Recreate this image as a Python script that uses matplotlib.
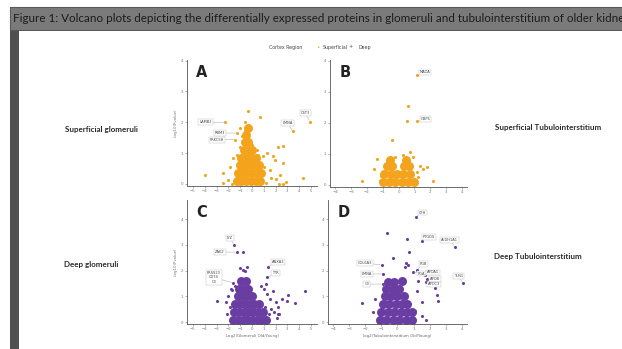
import matplotlib
matplotlib.use("Agg")
from matplotlib import pyplot as plt
from matplotlib.patches import Rectangle

"""Volcano plots of glomeruli / tubulointerstitium, old vs young kidneys,
rebuilt as the slide screenshot (title band + 2x2 panels + row labels)."""

# ---- data -------------------------------------------------------------
# scattered points (log2 fold change, -log10 p)
a_x = [-0.36, 0.68, -0.59, -2.28, -1.29, -1.44, 3.47, 4.9, 2.23, 2.65, 1.24, 1.78, 1.97,
       2.6, 1.0, 1.5, -1.86, -2.45, -3.98, -2.43, -1.72, 4.3, 2.3, 2.6, 2.0, 2.4, 1.2, 0.7,
       -1.02, -1.3, -1.58, -0.03, 0.4, 0.53, 0.96, -1.02, -0.59, -0.87, 1.6, 2.9, -2.0]
a_y = [2.35, 2.17, 2.02, 2.0, 1.65, 1.43, 1.7, 2.02, 1.21, 1.23, 1.0, 0.89, 0.78,
       0.68, 0.55, 0.45, 0.56, 0.35, 0.29, 0.02, 0.0, 0.19, 0.0, 0.0, 0.15, 0.28, 0.02, 0.15,
       1.21, 0.94, 0.83, 1.27, 1.1, 0.94, 0.89, 1.81, 1.7, 1.54, 0.2, 0.05, 0.12]
# dense core of the cloud
a_core_x = [-1.3, -0.9, -0.5, -0.1, 0.3, 0.7, -1.2, -0.8, -0.4, 0.0, 0.4, 0.75,
            -1.0, -0.6, -0.2, 0.2, 0.55, -0.9, -0.5, -0.1, 0.3, -0.7, -0.35, 0.0,
            -0.6, -0.3, -0.55, -0.35]
a_core_y = [0.1, 0.1, 0.1, 0.1, 0.1, 0.1, 0.35, 0.35, 0.35, 0.35, 0.35, 0.35,
            0.6, 0.6, 0.6, 0.6, 0.6, 0.85, 0.85, 0.85, 0.85, 1.1, 1.1, 1.1,
            1.35, 1.35, 1.6, 1.8]

b_x = [1.14, 0.62, 0.55, 1.18, -0.43, 0.72, 0.93, -1.37, -1.58, 1.35, 1.56, 1.77,
       1.14, 1.24, -2.31, 2.19, -1.1, -1.0, -1.2, 0.3, -0.2]
b_y = [3.53, 2.53, 2.07, 2.04, 1.44, 1.06, 0.89, 0.84, 0.51, 0.62, 0.51, 0.57,
       0.4, 0.24, 0.13, 0.13, 0.3, 0.2, 0.12, 0.95, 0.9]
b_core_x = [-1.0, -0.6, -0.2, 0.2, 0.6, 0.95, -0.9, -0.5, -0.1, 0.3, 0.7,
            -0.75, -0.4, 0.35, 0.65, -0.55, 0.45]
b_core_y = [0.1, 0.1, 0.1, 0.1, 0.1, 0.1, 0.35, 0.35, 0.35, 0.35, 0.35,
            0.6, 0.6, 0.6, 0.6, 0.8, 0.8]

c_x = [-1.52, -1.3, -0.79, -1.02, -0.74, -0.45, -0.59, 1.38, 1.3, -1.58, -1.44, -1.72,
       -2.99, 4.48, 3.07, 3.64, 2.94, 2.23, 2.09, 1.0, 1.3, 1.5, 1.8, 2.0, 1.6, 2.2,
       1.1, 1.4, 1.9, 2.5, 1.2, 0.8, 2.3, -2.0, -1.9, -2.1, -1.8, -2.2]
c_y = [3.0, 2.72, 2.72, 2.1, 2.03, 2.16, 2.0, 2.16, 1.74, 1.52, 1.39, 1.26,
       0.84, 1.2, 1.07, 0.75, 0.81, 0.3, 0.17, 1.3, 1.1, 0.9, 1.2, 0.8, 0.5, 0.6,
       0.6, 0.3, 0.4, 0.9, 1.5, 1.4, 0.3, 1.0, 0.6, 0.3, 1.3, 0.8]
c_core_x = [-1.6, -1.2, -0.8, -0.4, 0.0, 0.4, 0.8, 1.2, -1.5, -1.1, -0.7, -0.3, 0.1,
            0.5, 0.9, -1.4, -1.0, -0.6, -0.2, 0.2, 0.6, -1.2, -0.8, -0.4, 0.0,
            -1.1, -0.7, -0.3, -0.9, -0.5]
c_core_y = [0.1, 0.1, 0.1, 0.1, 0.1, 0.1, 0.1, 0.1, 0.4, 0.4, 0.4, 0.4, 0.4,
            0.4, 0.4, 0.7, 0.7, 0.7, 0.7, 0.7, 0.7, 1.0, 1.0, 1.0, 1.0,
            1.3, 1.3, 1.3, 1.6, 1.6]

d_x = [1.15, -0.67, 0.61, 1.51, 3.58, 0.74, -0.3, -0.99, 0.53, 0.68, 0.47, 1.2, 0.98,
       -0.88, 1.71, 1.82, 1.77, 4.06, -0.88, 2.33, 2.44, 2.54, -2.23, 1.2, 1.5, 1.1,
       1.5, 1.8, -1.4, -1.5, 1.3]
d_y = [4.09, 3.47, 3.23, 3.15, 2.93, 2.74, 2.49, 2.23, 2.29, 2.23, 2.16, 2.03, 1.94,
       1.87, 1.82, 1.69, 1.57, 1.52, 1.48, 1.33, 1.07, 0.84, 0.75, 1.2, 0.8, 0.45,
       0.25, 0.1, 0.9, 0.4, 1.6]
d_core_x = [-1.1, -0.7, -0.3, 0.1, 0.5, 0.9, -1.0, -0.6, -0.2, 0.2, 0.6, 0.9,
            -0.9, -0.5, -0.1, 0.3, 0.6, -0.8, -0.4, 0.0, 0.4, -0.7, -0.3, 0.1,
            -0.6, -0.2, 0.3]
d_core_y = [0.1, 0.1, 0.1, 0.1, 0.1, 0.1, 0.4, 0.4, 0.4, 0.4, 0.4, 0.4,
            0.7, 0.7, 0.7, 0.7, 0.7, 1.0, 1.0, 1.0, 1.0, 1.3, 1.3, 1.3,
            1.55, 1.55, 1.6]

# labelled proteins: name, x, y
a_labels = [("LAMB2", -2.28, 2.0), ("RBM3", -1.29, 1.65), ("PRKCSH", -1.44, 1.43),
            ("LMNA", 3.47, 1.7), ("CST3", 4.9, 2.02)]
b_labels = [("MAOA", 1.14, 3.53), ("GBP6", 1.18, 2.04)]
c_labels = [("LYZ", -1.52, 3.0), ("ZAK2", -1.3, 2.72), ("ANXA3", 1.38, 2.16),
            ("TTR", 1.3, 1.74), ("PRSS23\nCD74\nC3", -1.58, 1.52)]
d_labels = [("CFH", 1.15, 4.09), ("PTGDS", 1.51, 3.15), ("ALDH1A1", 3.58, 2.93),
            ("COL6A3", -0.99, 2.23), ("FGB", 1.2, 2.03), ("FGA", 0.98, 1.94),
            ("LMNA", -0.88, 1.87), ("APOA1", 1.71, 1.82), ("APOB", 1.82, 1.69),
            ("APOC3", 1.77, 1.57), ("TLN1", 4.06, 1.52), ("C3", -0.88, 1.48)]

a_xticks = [-5, -4, -3, -2, -1, 0, 1, 2, 3, 4, 5]
b_xticks = [-4, -3, -2, -1, 0, 1, 2, 3, 4]
yticks = [0, 1, 2, 3, 4]

row_labels = ["Superficial glomeruli", "Deep glomeruli",
              "Superficial Tubulointerstitium", "Deep Tubulointerstitium"]
title = ("Figure 1: Volcano plots depicting the differentially expressed proteins "
         "in glomeruli and tubulointerstitium of older kidneys")

orange = "#F4A41C"
purple = "#6A3DA3"

# label offsets in points (layout only)
a_off = [(-14, 0), (-12, 0), (-13, 0), (-4, 6), (-3, 6)]
b_off = [(6, 2), (6, 2)]
c_off = [(-3, 5), (-12, 0), (7, 3), (6, 3), (-14, 4)]
d_off = [(5, 3), (5, 3), (-4, 5), (-12, 1), (5, 4), (6, -1), (-12, 0), (6, 2), (6, 0),
         (6, -2), (-3, 5), (-12, 0)]

# ---- figure -----------------------------------------------------------
fig = plt.figure(figsize=(6.22, 3.49), dpi=100)
fig.patch.set_facecolor("white")

W, H = 622.0, 349.0
# dark slide frame, grey title band and white slide area
fig.patches.append(Rectangle((10 / W, 0), 1, 1 - 7 / H, transform=fig.transFigure,
                             fc="#4f4f4f", ec="none", zorder=-3))
fig.patches.append(Rectangle((10 / W, 1 - 30 / H), 1, 23 / H, transform=fig.transFigure,
                             fc="#7a7a7a", ec="#5a5a5a", lw=0.8, zorder=-2))
fig.patches.append(Rectangle((19 / W, 0), 1, 1 - 31 / H, transform=fig.transFigure,
                             fc="white", ec="none", zorder=-1))

fig.text(13 / W, 1 - 18.5 / H, title, fontsize=8.35, color="#1c1c1c", va="center",
         ha="left", family=["Lato", "DejaVu Sans"])


def box(l, t, r, b):
    return [l / W, 1 - b / H, (r - l) / W, (b - t) / H]


panels = [
    dict(rect=box(187, 60, 317, 186), x=a_x, y=a_y, cx=a_core_x, cy=a_core_y,
         lab=a_labels, off=a_off, col=orange, xlim=(-5.5, 5.5), ylim=(-0.07, 4.02),
         xt=a_xticks, tag="A", ylab=True, xlab=None),
    dict(rect=box(330, 60, 467, 187), x=b_x, y=b_y, cx=b_core_x, cy=b_core_y,
         lab=b_labels, off=b_off, col=orange, xlim=(-4.33, 4.33), ylim=(-0.07, 4.02),
         xt=b_xticks, tag="B", ylab=False, xlab=None),
    dict(rect=box(187, 200, 317, 324), x=c_x, y=c_y, cx=c_core_x, cy=c_core_y,
         lab=c_labels, off=c_off, col=purple, xlim=(-5.5, 5.5), ylim=(-0.07, 4.74),
         xt=a_xticks, tag="C", ylab=True, xlab="Log2(Glomeruli Old/Young)"),
    dict(rect=box(328, 200, 467, 324), x=d_x, y=d_y, cx=d_core_x, cy=d_core_y,
         lab=d_labels, off=d_off, col=purple, xlim=(-4.33, 4.33), ylim=(-0.07, 4.74),
         xt=b_xticks, tag="D", ylab=False, xlab="log2(Tubulointerstitium Old/Young)"),
]

for p in panels:
    ax = fig.add_axes(p["rect"])
    ax.set_zorder(2)
    ax.set_facecolor("none")
    ax.scatter(p["cx"], p["cy"], s=42, color=p["col"], lw=0, zorder=2)
    ax.scatter(p["x"], p["y"], s=5, color=p["col"], lw=0, zorder=3)
    for (name, gx, gy), (dx, dy) in zip(p["lab"], p["off"]):
        ax.annotate(name, (gx, gy), xytext=(dx, dy), textcoords="offset points",
                    fontsize=2.6, color="#444444", ha="center", va="center",
                    bbox=dict(boxstyle="square,pad=0.25", fc="white", ec="#bbbbbb", lw=0.3),
                    arrowprops=dict(arrowstyle="-", lw=0.3, color="#999999",
                                    shrinkA=0, shrinkB=1),
                    zorder=4)
    ax.set_xlim(*p["xlim"])
    ax.set_ylim(*p["ylim"])
    ax.set_xticks(p["xt"])
    ax.set_yticks(yticks)
    ax.tick_params(labelsize=2.8, labelcolor="#777777", length=1.5, width=0.4,
                   color="#777777", pad=1)
    for s in ["top", "right"]:
        ax.spines[s].set_visible(False)
    for s in ["left", "bottom"]:
        ax.spines[s].set_color("#555555")
        ax.spines[s].set_linewidth(0.6)
    ax.text(0.07, 0.9, p["tag"], transform=ax.transAxes, fontsize=10.5,
            fontweight="bold", color="#222222", va="center", ha="left")
    if p["ylab"]:
        ax.set_ylabel("-log10(Pvalue)", fontsize=2.8, color="#777777", labelpad=2)
    if p["xlab"]:
        ax.set_xlabel(p["xlab"], fontsize=2.8, color="#666666", labelpad=1.5)

# legend strip at top centre
fig.text(286 / W, 1 - 47 / H, "Cortex Region", fontsize=3.4, color="#444444",
         ha="center", va="center")
fig.text(318 / W, 1 - 47 / H, "\u2022", fontsize=4, color=orange, ha="center", va="center")
fig.text(335 / W, 1 - 47 / H, "Superficial", fontsize=3.4, color="#444444",
         ha="center", va="center")
fig.text(351 / W, 1 - 47 / H, "+", fontsize=3.5, color=purple, ha="center", va="center")
fig.text(365 / W, 1 - 47 / H, "Deep", fontsize=3.4, color="#444444",
         ha="center", va="center")

# row labels beside the panels
row_pos = [(101, 130), (91, 265), (548, 128), (538, 257)]
for txt, (px, py) in zip(row_labels, row_pos):
    fig.text(px / W, 1 - py / H, txt, fontsize=5.8, color="#2a2a2a", ha="center",
             va="center", fontweight="bold", family=["Lato", "DejaVu Sans"])

fig.savefig("out.png", dpi=100)
